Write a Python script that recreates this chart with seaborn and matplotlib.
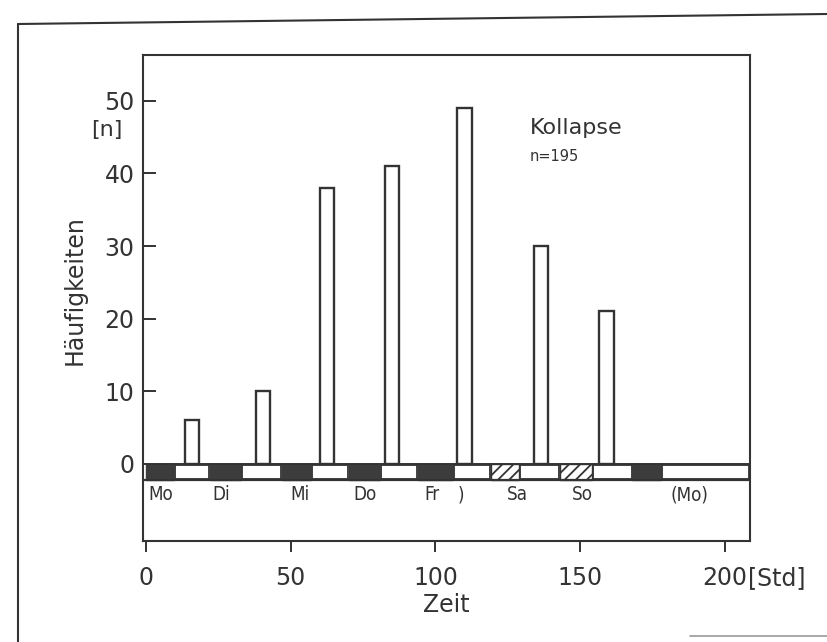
import numpy as np
import pandas as pd
import matplotlib
matplotlib.use("Agg")
import matplotlib.pyplot as plt
from matplotlib.patches import Rectangle
from matplotlib.lines import Line2D
import seaborn as sns

# ---- data ----
hours = [16, 40.5, 62.5, 85, 110, 136.5, 159]
counts = [6, 10, 38, 41, 49, 30, 21]
night_spans = [(0, 9.7), (22, 33), (47, 57), (70, 81), (94, 106), (168, 178)]
weekend_spans = [(119, 129), (143, 154)]
day_spans = [(9.7, 22), (33, 47), (57, 70), (81, 94), (106, 119), (129, 143), (154, 168), (178, 208.6)]
day_labels = ["Mo", "Di", "Mi", "Do", "Fr", ")", "Sa", "So", "(Mo)"]
day_label_x = [0.8, 23, 50, 71.5, 96, 107.5, 124.5, 147, 181]
xticks = [0, 50, 100, 150, 200]
xticklabels = ["0", "50", "100", "150", "200"]
yticks = [0, 10, 20, 30, 40, 50]
yticklabels = ["0", "10", "20", "30", "40", "50"]

INK = "#333333"
FILL = "#3c3c3c"

sns.set_theme(style="white")
plt.rcParams["font.family"] = ["DejaVu Sans"]
plt.rcParams["hatch.color"] = INK
plt.rcParams["hatch.linewidth"] = 1.3

fig = plt.figure(figsize=(8.27, 6.42), dpi=100)
W, H = 827, 642
left, right, bottom, top = 143, 750, 541, 55
ax = fig.add_axes([left / W, 1 - bottom / H, (right - left) / W, (bottom - top) / H])

df = pd.DataFrame({"Zeit": hours, "n": counts})
bw = 5.0 / np.min(np.diff(hours))
sns.barplot(data=df, x="Zeit", y="n", native_scale=True, width=bw,
            color="white", edgecolor=INK, linewidth=1.7, ax=ax, zorder=3,
            errorbar=None)
for p in ax.patches:
    p.set_facecolor("white")

ax.set_xlim(-1, 208.6)
ax.set_ylim(-10.6, 56.3)

# day / night strip
s_top, s_bot = 0.0, -2.2
for a, b in day_spans:
    ax.add_patch(Rectangle((a + 0.3, s_bot + 0.1), b - a - 0.6, (s_top - s_bot) - 0.2,
                           facecolor="white", edgecolor=INK, lw=1.3, zorder=2))
for a, b in night_spans:
    ax.add_patch(Rectangle((a, s_bot), b - a, s_top - s_bot,
                           facecolor=FILL, edgecolor=FILL, lw=1.0, zorder=2))
for a, b in weekend_spans:
    ax.add_patch(Rectangle((a, s_bot), b - a, s_top - s_bot,
                           facecolor="white", edgecolor=INK, hatch="///", lw=1.0, zorder=2))
ax.plot([-1, 208.6], [s_top, s_top], color=INK, lw=1.4, zorder=2.5)
ax.plot([-1, 208.6], [s_bot, s_bot], color=INK, lw=1.6, zorder=2.5)

for lab, xv in zip(day_labels, day_label_x):
    ax.text(xv, -4.2, lab, ha="left", va="center", fontsize=13.5, color=INK,
            fontstretch="condensed")

# axes styling
for sp in ax.spines.values():
    sp.set_visible(True)
    sp.set_color(INK)
    sp.set_linewidth(1.5)

ax.set_xticks(xticks)
ax.set_xticklabels(xticklabels)
ax.set_yticks(yticks)
ax.set_yticklabels(yticklabels)
ax.tick_params(axis="x", direction="out", length=8, width=1.4, color=INK,
               labelsize=17, labelcolor=INK, pad=10, bottom=True)
ax.tick_params(axis="y", direction="in", length=9, width=1.4, color=INK,
               labelsize=17, labelcolor=INK, pad=6, left=True)
ax.yaxis.get_major_ticks()[0].tick1line.set_visible(False)
ax.set_xlabel("Zeit", fontsize=17, color=INK, labelpad=2)
ax.set_ylabel("")

# [Std] after the 200 tick label
fig.text(748 / W, 1 - 578 / H, "[Std]", ha="left", va="center", fontsize=17, color=INK)

# annotations
ax.text(132.5, 46.2, "Kollapse", fontsize=16, color=INK, ha="left", va="center")
ax.text(132.5, 42.3, "n=195", fontsize=10.5, color=INK, ha="left", va="center")

fig.text(75 / W, 1 - 290 / H, "Häufigkeiten", rotation=90, ha="center", va="center",
         fontsize=17, color=INK)
fig.text(107 / W, 1 - 130 / H, "[n]", ha="center", va="center", fontsize=16, color=INK)

# outer frame
fig.add_artist(Line2D([18 / W, 18 / W], [0, 1 - 24 / H], transform=fig.transFigure,
                      color=INK, lw=1.5))
fig.add_artist(Line2D([18 / W, 1.0], [1 - 24 / H, 1 - 14 / H], transform=fig.transFigure,
                      color=INK, lw=1.5))
fig.add_artist(Line2D([690 / W, 1.0], [1 - 636 / H, 1 - 636 / H], transform=fig.transFigure,
                      color="#999999", lw=1.2))

fig.savefig("out.png", dpi=100)
